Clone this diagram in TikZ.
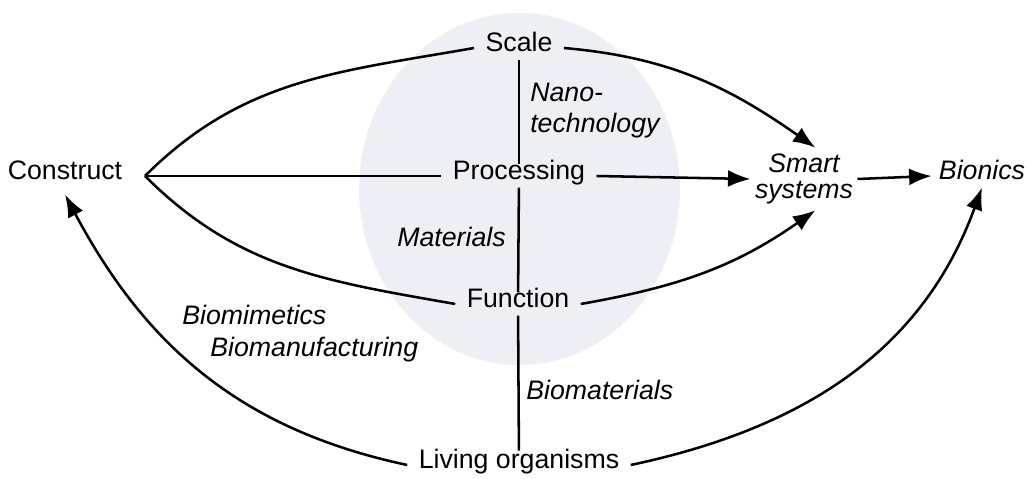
\documentclass[tikz,border=0pt]{standalone}
\usepackage{fontspec}
\setmainfont{Liberation Sans}
\usetikzlibrary{arrows.meta}

\definecolor{hazegray}{RGB}{238,239,244}

\begin{document}
\begin{tikzpicture}[x=0.025cm, y=0.025cm,
  term/.style={font=\fontsize{19}{23}\selectfont, text height=0.75em, text depth=0.25em, inner xsep=8pt, inner ysep=3pt},
  field/.style={font=\fontsize{19}{23}\selectfont\itshape, inner sep=0pt},
  link/.style={line width=1.8pt},
  arrow/.style={line width=1.8pt, -{Latex[length=16pt, width=12pt]}}]

\useasboundingbox (0, 0) rectangle (1026, 479);

% background

\fill[hazegray] (519.5, 290) ellipse [x radius=4.01cm, y radius=4.4cm];

% main nodes

\node[term] (scale) at (519, 431) {Scale};
\node[term] (proc) at (519, 303) {Processing};
\node[term] (func) at (518, 175) {Function};
\node[term, inner ysep=5pt] (living) at (519, 14) {Living organisms};
\node[term, inner ysep=8pt] (construct) at (65, 303) {Construct};
\coordinate (hub) at (145, 303);
\node[term, font=\fontsize{19}{19}\selectfont\itshape, align=center, text height=, text depth=, inner xsep=3pt, inner ysep=4pt] (smart) at (804, 300) {Smart\\systems};
\node[term, font=\fontsize{19}{23}\selectfont\itshape, inner xsep=5pt] (bionics) at (982, 303) {Bionics};

% field labels

\node[field, anchor=base west] (nano) at (530, 377) {Nano-};
\node[field, anchor=base west] (nanotech) at (530, 346) {technology};
\node[field, anchor=base east] (mat) at (506, 232) {Materials};
\node[field, anchor=base west] (biomim) at (182, 154) {Biomimetics};
\node[field, anchor=base west] (biomanu) at (210, 122) {Biomanufacturing};
\node[field, anchor=base west] (biomat) at (526, 79) {Biomaterials};

% vertical axis
\draw[link] (scale) -- (proc);
\draw[link] (proc) -- (func);
\draw[link] (func) -- (living);

% construct to the core
\draw[link] (hub) to[out=45, in=190] (scale.west);
\draw[link] (hub) -- (proc.west);
\draw[link] (hub) to[out=-45, in=170] (func.west);

% core to smart systems
\draw[arrow] (scale.east) to[out=-5, in=145] (smart.70);
\draw[arrow] (proc.east) -- (smart.west);
\draw[arrow] (func.east) to[out=10, in=-145] (smart.-70);
\draw[arrow] (smart.east) -- (bionics.west);

% living organisms
\draw[arrow] (living.west) to[out=168, in=-62] (construct.south);
\draw[arrow] (living.east) to[out=12, in=-110] (bionics.south);

\end{tikzpicture}
\end{document}
